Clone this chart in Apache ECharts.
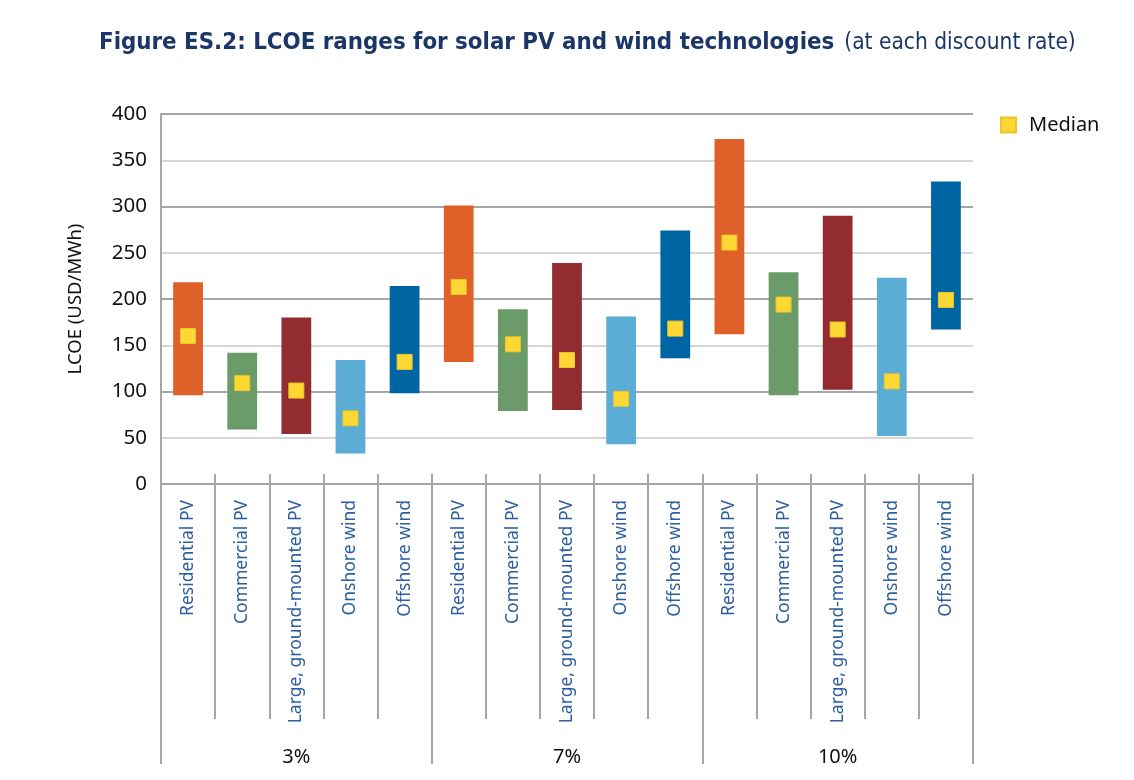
<!DOCTYPE html>
<html>
<head>
<meta charset="utf-8">
<script src="https://cdn.jsdelivr.net/npm/echarts@6/dist/echarts.min.js"></script>
<style>
  html, body { margin: 0; padding: 0; background: #fff; }
  #lcoe-chart { width: 1134px; height: 780px; }
</style>
</head>
<body>
<div id="lcoe-chart"></div>
<script>
// Tecnologías y tasas de descuento
const tecnologias = ['Residential PV', 'Commercial PV', 'Large, ground-mounted PV', 'Onshore wind', 'Offshore wind'];
const tasas = ['3%', '7%', '10%'];

// Valores (USD/MWh), en orden 3% / 7% / 10%
const minimos = [96, 59, 54, 33, 98,   132, 79, 80, 43, 136,   162, 96, 102, 52, 167];
const maximos = [218, 142, 180, 134, 214,   301, 189, 239, 181, 274,   373, 229, 290, 223, 327];
const medianas = [160, 109, 101, 71, 132,   213, 151, 134, 92, 168,   261, 194, 167, 111, 199];

const ejeY = { min: 0, max: 400, interval: 50 };

const colores = ['#E0602A', '#6B9B68', '#922C30', '#5BADD6', '#0066A3'];

// Una categoría por barra
const categorias = [];
tasas.forEach(() => tecnologias.forEach(t => categorias.push(t)));

const gris = '#A6A6A6';
const fuente = '"Noto Sans", "Open Sans", sans-serif';
const fuenteTitulo = '"DejaVu Sans Condensed", "Liberation Sans Narrow", sans-serif';
const sinLinea = { show: false, lineStyle: { opacity: 0 } };

const option = {
    animation: false,
    title: {
        text: '{b|Figure ES.2: LCOE ranges for solar PV and wind technologies}  {n|(at each discount rate)}',
        left: 94,
        top: 26,
        textStyle: {
            rich: {
                b: { fontFamily: fuenteTitulo, fontWeight: 'bold', fontSize: 23.8, color: '#1B3667' },
                n: { fontFamily: fuenteTitulo, fontWeight: 'normal', fontSize: 22.5, color: '#1B3667' }
            }
        }
    },
    legend: {
        data: ['Median'],
        left: 995,
        top: 110,
        icon: 'rect',
        itemWidth: 15,
        itemHeight: 15,
        textStyle: { fontFamily: fuente, fontSize: 20, color: '#111', padding: [0, 0, 0, 8] }
    },
    grid: { left: 161, right: 161, top: 114, bottom: 296 },
    xAxis: [
        {
            type: 'category',
            data: categorias,
            axisLine: { show: true, lineStyle: { color: gris, width: 2 } },
            axisTick: { show: true, interval: 0, length: 235, lineStyle: { color: gris, width: 2 } },
            axisLabel: {
                interval: 0,
                rotate: 90,
                margin: 16,
                fontFamily: fuente,
                fontSize: 17.5,
                color: '#2D5E9E'
            }
        },
        {
            // marcas cortas por encima del eje
            type: 'category',
            data: categorias,
            position: 'bottom',
            axisLine: sinLinea,
            axisTick: { show: true, interval: 0, inside: true, length: 10, lineStyle: { color: gris, width: 2 } },
            axisLabel: { show: false }
        },
        {
            // grupos por tasa de descuento
            type: 'category',
            data: tasas,
            position: 'bottom',
            axisLine: sinLinea,
            axisTick: { show: true, interval: 0, length: 280, lineStyle: { color: gris, width: 2 } },
            axisLabel: {
                interval: 0,
                margin: 263,
                fontFamily: fuente,
                fontSize: 20,
                color: '#111'
            }
        }
    ],
    yAxis: {
        type: 'value',
        min: ejeY.min,
        max: ejeY.max,
        interval: ejeY.interval,
        name: 'LCOE (USD/MWh)',
        nameLocation: 'middle',
        nameGap: 76,
        nameTextStyle: { fontFamily: fuente, fontSize: 18.5, color: '#111' },
        axisLine: { show: true, lineStyle: { color: gris, width: 2 } },
        axisTick: { show: false },
        axisLabel: { margin: 14, fontFamily: fuente, fontSize: 20.5, color: '#111' },
        splitLine: { lineStyle: { color: [gris, '#D6D6D6'], width: 2 } }
    },
    series: [
        {
            type: 'bar',
            stack: 'rango',
            silent: true,
            itemStyle: { color: 'transparent' },
            data: minimos
        },
        {
            type: 'bar',
            stack: 'rango',
            barWidth: '55%',
            data: maximos.map((v, i) => ({
                value: v - minimos[i],
                itemStyle: { color: colores[i % tecnologias.length] }
            }))
        },
        {
            name: 'Median',
            type: 'scatter',
            symbol: 'rect',
            symbolSize: 15,
            itemStyle: { color: '#FDD835', borderColor: '#EBC52A', borderWidth: 1, opacity: 1 },
            z: 5,
            data: medianas
        }
    ]
};

const chart = echarts.init(document.getElementById('lcoe-chart'));
chart.setOption(option);
</script>
</body>
</html>
